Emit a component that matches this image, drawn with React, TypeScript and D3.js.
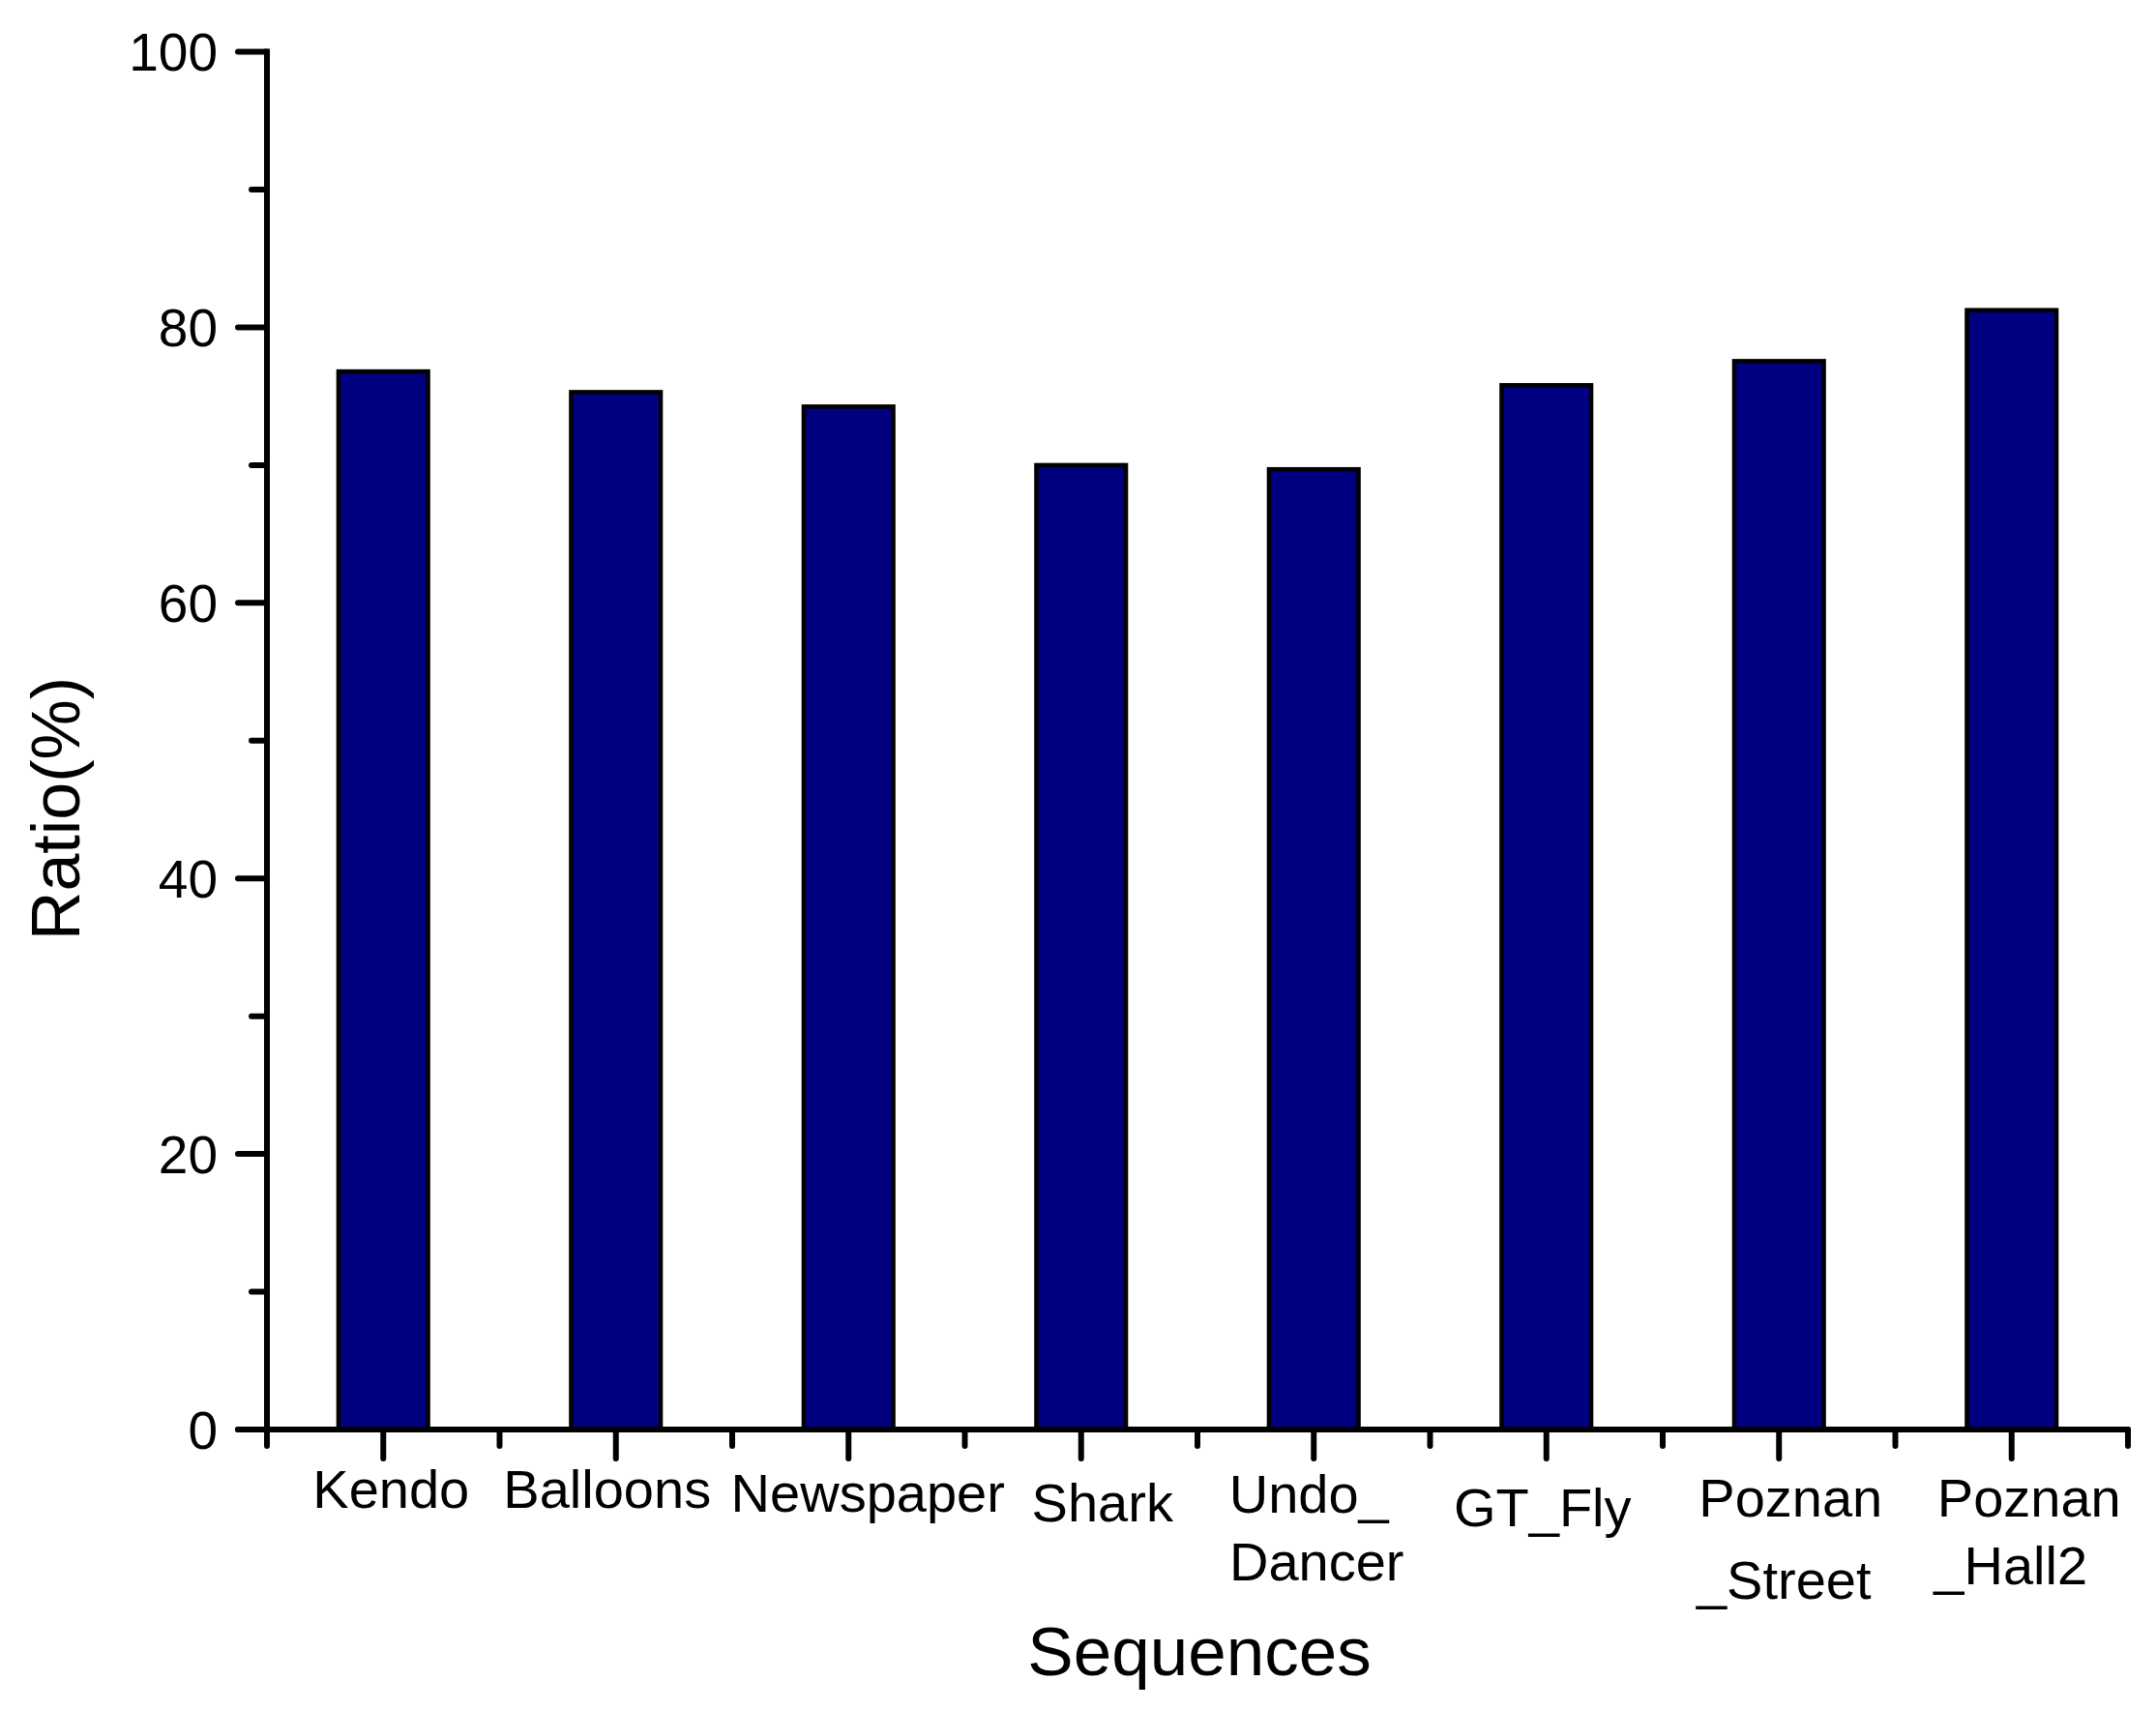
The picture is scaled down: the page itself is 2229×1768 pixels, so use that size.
import React from "react";
import * as d3 from "d3";

const categories = ["Kendo", "Balloons", "Newspaper", "Shark", "Undo_Dancer", "GT_Fly", "Poznan_Street", "Poznan_Hall2"];
const labelLines = [["Kendo"], ["Balloons"], ["Newspaper"], ["Shark"], ["Undo_", "Dancer"], ["GT_Fly"], ["Poznan", "_Street"], ["Poznan", "_Hall2"]];
const ratios = [76.8, 75.3, 74.25, 70.0, 69.7, 75.8, 77.55, 81.25];
const yMajorTicks = [0, 20, 40, 60, 80, 100];
const yMinorTicks = [10, 30, 50, 70, 90];

// layout (not data)
const W = 2229, H = 1768;
const X0 = 276, X1 = 2200, Y0 = 1478, Y1 = 53.6;
const lineBaselines = [[1559], [1559], [1563], [1573], [1564, 1634], [1578], [1568, 1653], [1568, 1638]];
const lineDx = [[8], [-9], [20], [22], [-5, 3], [-4], [12, 5], [18, -1]];
const FONT = "Arial, 'Liberation Sans', sans-serif";

export default function App() {
  const x = d3.scaleBand<string>().domain(categories).range([X0, X1]).padding(0);
  const y = d3.scaleLinear().domain([0, 100]).range([Y0, Y1]);
  const bw = x.bandwidth() * 0.385;
  const boundaries = d3.range(categories.length + 1).map((i) => X0 + i * x.step());
  const cx = (c: string) => (x(c) as number) + x.bandwidth() / 2;

  return (
    <svg width={W} height={H} style={{ position: "absolute", left: 0, top: 0, background: "#fff" }} fontFamily={FONT}>
      <rect x={0} y={0} width={W} height={H} fill="#fff" />
      {/* bars */}
      {categories.map((c, i) => (
        <rect key={c} x={cx(c) - bw / 2} y={y(ratios[i])} width={bw} height={y(0) - y(ratios[i])}
          fill="#000080" stroke="#000" strokeWidth={4.5} />
      ))}
      {/* y axis */}
      <line x1={X0} x2={X0} y1={Y1 - 3} y2={Y0} stroke="#000" strokeWidth={6} />
      {yMajorTicks.map((t) => (
        <g key={"ym" + t}>
          <line x1={X0 - 30} x2={X0} y1={y(t)} y2={y(t)} stroke="#000" strokeWidth={6} strokeLinecap="round" />
          <text x={225} y={y(t)} dy="0.36em" textAnchor="end" fontSize={55}>{t}</text>
        </g>
      ))}
      {yMinorTicks.map((t) => (
        <line key={"yn" + t} x1={X0 - 16} x2={X0} y1={y(t)} y2={y(t)} stroke="#000" strokeWidth={6} strokeLinecap="round" />
      ))}
      {/* x axis */}
      <line x1={X0 - 30} x2={X1} y1={Y0} y2={Y0} stroke="#000" strokeWidth={6} strokeLinecap="round" />
      {categories.map((c) => (
        <line key={"xm" + c} x1={cx(c)} x2={cx(c)} y1={Y0} y2={Y0 + 30}
          stroke="#000" strokeWidth={6} strokeLinecap="round" />
      ))}
      {boundaries.map((b, i) => (
        <line key={"xn" + i} x1={b} x2={b} y1={Y0} y2={Y0 + 17} stroke="#000" strokeWidth={6} strokeLinecap="round" />
      ))}
      {categories.map((c, i) => (
        <g key={"lab" + c}>
          {labelLines[i].map((ln, j) => (
            <text key={j} x={cx(c) + lineDx[i][j]} y={lineBaselines[i][j]} textAnchor="middle" fontSize={56}>{ln}</text>
          ))}
        </g>
      ))}
      {/* axis titles */}
      <text x={1240} y={1732} textAnchor="middle" fontSize={71}>Sequences</text>
      <text transform={`translate(82, 836) rotate(-90)`} textAnchor="middle" fontSize={70}>Ratio(%)</text>
    </svg>
  );
}
